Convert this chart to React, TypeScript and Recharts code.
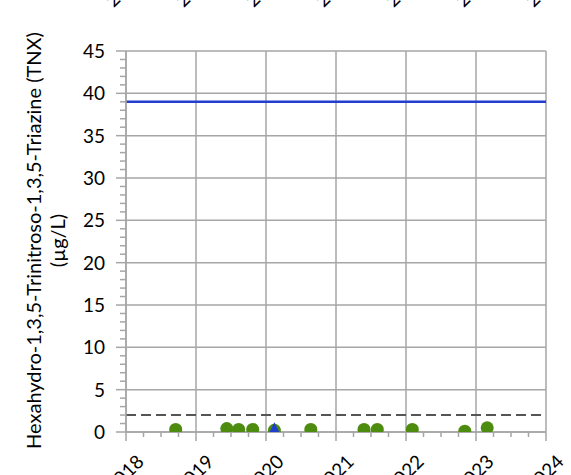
import { ScatterChart, Scatter, XAxis, YAxis, CartesianGrid, ReferenceLine } from 'recharts'

// tick values
const yearTicks = [2018, 2019, 2020, 2021, 2022, 2023, 2024]
const quarterTicks = [
    2018, 2018.25, 2018.5, 2018.75, 2019, 2019.25, 2019.5, 2019.75,
    2020, 2020.25, 2020.5, 2020.75, 2021, 2021.25, 2021.5, 2021.75,
    2022, 2022.25, 2022.5, 2022.75, 2023, 2023.25, 2023.5, 2023.75, 2024,
]
const yMajorTicks = [0, 5, 10, 15, 20, 25, 30, 35, 40, 45]
const yMinorTicks = [
    0, 1, 2, 3, 4, 5, 6, 7, 8, 9, 10, 11, 12, 13, 14, 15, 16, 17, 18, 19, 20, 21, 22,
    23, 24, 25, 26, 27, 28, 29, 30, 31, 32, 33, 34, 35, 36, 37, 38, 39, 40, 41, 42, 43, 44, 45,
]

// sampling results (decimal year, µg/L)
const sampleDates = [2018.71, 2019.44, 2019.61, 2019.81, 2020.12, 2020.64, 2021.40, 2021.59, 2022.09, 2022.84, 2023.16]
const tnxValues = [0.3, 0.4, 0.3, 0.3, 0.2, 0.3, 0.3, 0.3, 0.3, 0.1, 0.5]
const detectDates = [2020.12]
const detectValues = [0.2]

const screeningLevel = 39
const reportingLimit = 2

const FONT = 'Lato, "Open Sans", sans-serif'
const GRID = '#a6a6a6'

// chart layout
const W = 571
const H = 475
const MARGIN = { top: 51, right: 25, bottom: 0, left: 0 }
const Y_AXIS_W = 126
const X_AXIS_H = 43
const plot = {
    x: MARGIN.left + Y_AXIS_W,
    y: MARGIN.top,
    w: W - MARGIN.left - MARGIN.right - Y_AXIS_W,
    h: H - MARGIN.top - MARGIN.bottom - X_AXIS_H,
}
// the chart stacked above this one shows only the feet of its labels
const STACK_OFFSET = 486

const nonDetects = sampleDates.map((d, i) => ({ date: d, value: tnxValues[i] }))
const detects = detectDates.map((d, i) => ({ date: d, value: detectValues[i] }))

const YTick = ({ x, y, payload }: any) => {
    const major = payload.value % 5 === 0
    return (
        <g>
            <line x1={x - (major ? 10 : 6)} x2={x} y1={y} y2={y} stroke={GRID} strokeWidth={1.5} />
            {major && (
                <text x={x - 21} y={y} dy="0.36em" textAnchor="end" fontFamily={FONT} fontSize={19} fill="#000">
                    {payload.value}
                </text>
            )}
        </g>
    )
}

const XTick = ({ x, y, payload }: any) => {
    const major = Number.isInteger(payload.value)
    return (
        <g>
            <line x1={x} x2={x} y1={y} y2={y + (major ? 9 : 5)} stroke={GRID} strokeWidth={1.5} />
            {major && (
                <>
                    <text transform={`translate(${x + 19},${y + 31}) rotate(-45)`} textAnchor="end" fontFamily={FONT} fontSize={19} fill="#000">
                        {payload.value}
                    </text>
                    <text transform={`translate(${x + 19},${y + 31 - STACK_OFFSET}) rotate(-45)`} textAnchor="end" fontFamily={FONT} fontSize={19} fill="#000">
                        {payload.value}
                    </text>
                </>
            )}
        </g>
    )
}

const YLabel = ({ viewBox }: any) => {
    const cy = viewBox.y + viewBox.height / 2 - 1
    return (
        <g>
            <text transform={`translate(41,${cy}) rotate(-90)`} textAnchor="middle" fontFamily={FONT} fontSize={20} fill="#000">
                Hexahydro-1,3,5-Trinitroso-1,3,5-Triazine (TNX)
            </text>
            <text transform={`translate(65,${cy}) rotate(-90)`} textAnchor="middle" fontFamily={FONT} fontSize={20} fill="#000">
                (µg/L)
            </text>
        </g>
    )
}

const PlotClip = () => (
    <defs>
        <clipPath id="tnx-plot-clip">
            <rect x={plot.x} y={plot.y} width={plot.w} height={plot.h} />
        </clipPath>
    </defs>
)

export default function App() {
    return (
        <div style={{ position: 'absolute', left: 0, top: 0, width: W, height: H, overflow: 'hidden', background: '#fff' }}>
            <ScatterChart width={W} height={H} margin={MARGIN}>
                <PlotClip />
                <CartesianGrid stroke={GRID} strokeWidth={1.5} horizontalValues={yMajorTicks} verticalValues={yearTicks} />
                <XAxis
                    dataKey="date"
                    type="number"
                    domain={[2018, 2024]}
                    ticks={quarterTicks}
                    interval={0}
                    height={X_AXIS_H}
                    tickSize={0}
                    tickMargin={0}
                    tickLine={false}
                    tick={<XTick />}
                    axisLine={{ stroke: GRID, strokeWidth: 1.5 }}
                />
                <YAxis
                    dataKey="value"
                    type="number"
                    domain={[0, 45]}
                    allowDataOverflow
                    ticks={yMinorTicks}
                    interval={0}
                    width={Y_AXIS_W}
                    tickSize={0}
                    tickMargin={0}
                    tickLine={false}
                    tick={<YTick />}
                    axisLine={{ stroke: GRID, strokeWidth: 1.5 }}
                    label={<YLabel />}
                />
                <ReferenceLine y={screeningLevel} stroke="#1f3fcc" strokeWidth={2.5} />
                <ReferenceLine y={reportingLimit} stroke="#555555" strokeWidth={2} strokeDasharray="10 5" />
                <Scatter
                    data={nonDetects}
                    isAnimationActive={false}
                    shape={(p: any) => (
                        <circle cx={p.cx} cy={p.cy} r={6.5} fill="#4e8c0f" clipPath="url(#tnx-plot-clip)" />
                    )}
                />
                <Scatter
                    data={detects}
                    isAnimationActive={false}
                    shape={(p: any) => (
                        <polygon
                            points={`${p.cx},${p.cy - 8} ${p.cx - 6},${p.cy + 4} ${p.cx + 6},${p.cy + 4}`}
                            fill="#1f3fd0"
                            clipPath="url(#tnx-plot-clip)"
                        />
                    )}
                />
            </ScatterChart>
        </div>
    )
}
